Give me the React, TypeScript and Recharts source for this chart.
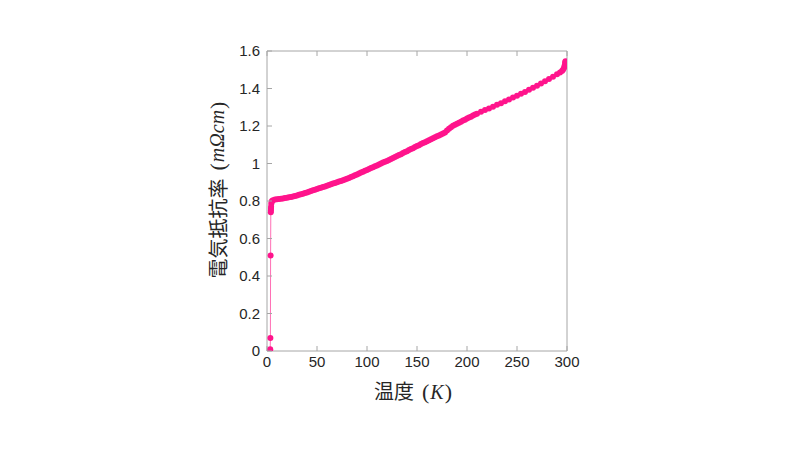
import React from 'react';
import { LineChart, Line, XAxis, YAxis, Label } from 'recharts';

// Temperature (K)
const temps: number[] = [
  3.0, 3.1, 3.2, 3.4, 3.6, 3.8, 3.9, 4.0, 4.1, 4.3, 4.6, 5,
  6, 8, 10, 12, 14, 16, 18, 20, 22, 24, 26, 28, 30, 32, 34, 36, 38, 40,
  42, 44, 46, 48, 50, 52, 54, 56, 58, 60, 62, 64, 66, 68, 70, 72, 74, 76, 78, 80,
  82, 84, 86, 88, 90, 92, 94, 96, 98, 100, 102, 104, 106, 108, 110, 112, 114, 116, 118, 120,
  122, 124, 126, 128, 130, 132, 134, 136, 138, 140, 142, 144, 146, 148, 150, 152, 154, 156, 158, 160,
  162, 164, 166, 168, 170, 172, 174, 176, 178, 180, 182, 184, 186, 188, 190, 192, 194, 196, 198, 200,
  202, 204, 206, 208, 210,
  214, 218, 222, 226, 230, 234, 238, 242, 246, 250, 254, 258, 262, 266, 270, 274, 278, 282, 286, 290,
  293, 295, 296, 297, 297.5, 298, 298.2, 298.5,
];

// Resistivity (mΩcm)
const rho: number[] = [
  0.0, 0.005, 0.01, 0.07, 0.51, 0.74, 0.75, 0.76, 0.77, 0.785, 0.795, 0.8,
  0.804, 0.808, 0.81, 0.811, 0.812, 0.814, 0.816, 0.818, 0.82, 0.822, 0.824, 0.827, 0.83, 0.833, 0.836, 0.839, 0.843, 0.846,
  0.85, 0.853, 0.857, 0.86, 0.864, 0.868, 0.871, 0.875, 0.878, 0.882, 0.886, 0.889, 0.893, 0.896, 0.9, 0.904, 0.907, 0.911, 0.915, 0.919,
  0.923, 0.928, 0.932, 0.937, 0.942, 0.947, 0.952, 0.956, 0.961, 0.966, 0.971, 0.976, 0.98, 0.985, 0.99, 0.995, 1.0, 1.005, 1.009, 1.014,
  1.019, 1.024, 1.029, 1.035, 1.04, 1.045, 1.05, 1.056, 1.061, 1.066, 1.072, 1.077, 1.082, 1.088, 1.093, 1.098, 1.104, 1.109, 1.114, 1.119,
  1.124, 1.13, 1.135, 1.14, 1.145, 1.15, 1.155, 1.16, 1.166, 1.176, 1.186, 1.194, 1.201, 1.207, 1.212, 1.218, 1.223, 1.229, 1.234, 1.24,
  1.245, 1.25, 1.256, 1.261, 1.266,
  1.276, 1.285, 1.294, 1.303, 1.313, 1.322, 1.332, 1.342, 1.352, 1.362, 1.372, 1.382, 1.393, 1.404, 1.415, 1.427, 1.439, 1.451, 1.463, 1.476,
  1.486, 1.493, 1.5, 1.51, 1.52, 1.53, 1.54, 1.545,
];

const xTicks: number[] = [0, 50, 100, 150, 200, 250, 300];
const yTicks: number[] = [0, 0.2, 0.4, 0.6, 0.8, 1, 1.2, 1.4, 1.6];
const xTickLabels: string[] = ['0', '50', '100', '150', '200', '250', '300'];
const yTickLabels: string[] = ['0', '0.2', '0.4', '0.6', '0.8', '1', '1.2', '1.4', '1.6'];

const data = temps.map((t, i) => ({ t, r: rho[i] }));

const AXIS = '#A6A6A6';
const TEXT = '#262626';
const PINK = '#FF148C';
const TICK_FONT = '"Liberation Sans", Arial, sans-serif';
const CJK_FONT = '"Noto Sans CJK JP", sans-serif';
const MATH_FONT = '"Liberation Serif", "DejaVu Serif", serif';

const BottomTick = (props: any) => {
  const { x, y, payload } = props;
  const label = xTickLabels[xTicks.indexOf(payload.value)] ?? String(payload.value);
  return (
    <g>
      <line x1={x} y1={y} x2={x} y2={y - 5} stroke={AXIS} strokeWidth={1} />
      <text x={x} y={y + 16} textAnchor="middle" fontSize={15} fontFamily={TICK_FONT} fill={TEXT}>
        {label}
      </text>
    </g>
  );
};

const LeftTick = (props: any) => {
  const { x, y, payload } = props;
  const label = yTickLabels[yTicks.indexOf(payload.value)] ?? String(payload.value);
  return (
    <g>
      <line x1={x} y1={y} x2={x + 5} y2={y} stroke={AXIS} strokeWidth={1} />
      <text x={x - 7} y={y + 5} textAnchor="end" fontSize={15} fontFamily={TICK_FONT} fill={TEXT}>
        {label}
      </text>
    </g>
  );
};

const TopTick = (props: any) => {
  const { x, y } = props;
  return <line x1={x} y1={y} x2={x} y2={y + 5} stroke={AXIS} strokeWidth={1} />;
};

const RightTick = (props: any) => {
  const { x, y } = props;
  return <line x1={x} y1={y} x2={x - 5} y2={y} stroke={AXIS} strokeWidth={1} />;
};

const XLabel = (props: any) => {
  const vb = props.viewBox || { x: 0, y: 0, width: 0, height: 0 };
  const cx = vb.x + vb.width / 2 - 4;
  const by = vb.y + 48;
  return (
    <text x={cx} y={by} textAnchor="middle" fontSize={20} fill={TEXT}>
      <tspan fontFamily={CJK_FONT}>温度</tspan>
      <tspan fontFamily={MATH_FONT} fontSize={22} dx={8}>(</tspan>
      <tspan fontFamily={MATH_FONT} fontStyle="italic" dx={1}>K</tspan>
      <tspan fontFamily={MATH_FONT} fontSize={22} dx={1}>)</tspan>
    </text>
  );
};

const YLabel = (props: any) => {
  const vb = props.viewBox || { x: 0, y: 0, width: 0, height: 0 };
  const cx = vb.x + vb.width - 50;
  const cy = vb.y + vb.height / 2 - 11;
  return (
    <text
      x={cx}
      y={cy}
      transform={`rotate(-90, ${cx}, ${cy})`}
      textAnchor="middle"
      dominantBaseline="central"
      fontSize={20}
      fill={TEXT}
    >
      <tspan fontFamily={CJK_FONT}>電気抵抗率</tspan>
      <tspan fontFamily={MATH_FONT} fontSize={22} dx={8}>(</tspan>
      <tspan fontFamily={MATH_FONT} fontStyle="italic" dx={1}>mΩcm</tspan>
      <tspan fontFamily={MATH_FONT} fontSize={22} dx={1}>)</tspan>
    </text>
  );
};

export default function App() {
  return (
    <div style={{ width: 800, height: 450, background: '#fff' }}>
      <LineChart
        width={800}
        height={450}
        data={data}
        margin={{ top: 41, right: 239, bottom: 47, left: 199 }}
      >
        <XAxis
          xAxisId="bottom"
          dataKey="t"
          type="number"
          domain={[0, 300]}
          ticks={xTicks}
          orientation="bottom"
          height={60}
          tickSize={0}
          tickMargin={0}
          tickLine={false}
          axisLine={{ stroke: AXIS, strokeWidth: 1 }}
          tick={<BottomTick />}
          interval={0}
          allowDataOverflow
        >
          <Label content={<XLabel />} />
        </XAxis>
        <XAxis
          xAxisId="top"
          dataKey="t"
          type="number"
          domain={[0, 300]}
          ticks={xTicks}
          orientation="top"
          height={2}
          tickSize={0}
          tickMargin={0}
          tickLine={false}
          axisLine={{ stroke: AXIS, strokeWidth: 1 }}
          tick={<TopTick />}
          interval={0}
        />
        <YAxis
          yAxisId="left"
          type="number"
          domain={[0, 1.6]}
          ticks={yTicks}
          orientation="left"
          width={60}
          tickSize={0}
          tickMargin={0}
          tickLine={false}
          axisLine={{ stroke: AXIS, strokeWidth: 1 }}
          tick={<LeftTick />}
          interval={0}
          allowDataOverflow
        >
          <Label content={<YLabel />} />
        </YAxis>
        <YAxis
          yAxisId="right"
          type="number"
          domain={[0, 1.6]}
          ticks={yTicks}
          orientation="right"
          width={2}
          tickSize={0}
          tickMargin={0}
          tickLine={false}
          axisLine={{ stroke: AXIS, strokeWidth: 1 }}
          tick={<RightTick />}
          interval={0}
        />
        <Line
          xAxisId="bottom"
          yAxisId="left"
          type="linear"
          dataKey="r"
          stroke="#FF6FB5"
          strokeWidth={1}
          dot={{ r: 3, fill: PINK, stroke: 'none', strokeWidth: 0 }}
          activeDot={false}
          isAnimationActive={false}
        />
      </LineChart>
    </div>
  );
}
